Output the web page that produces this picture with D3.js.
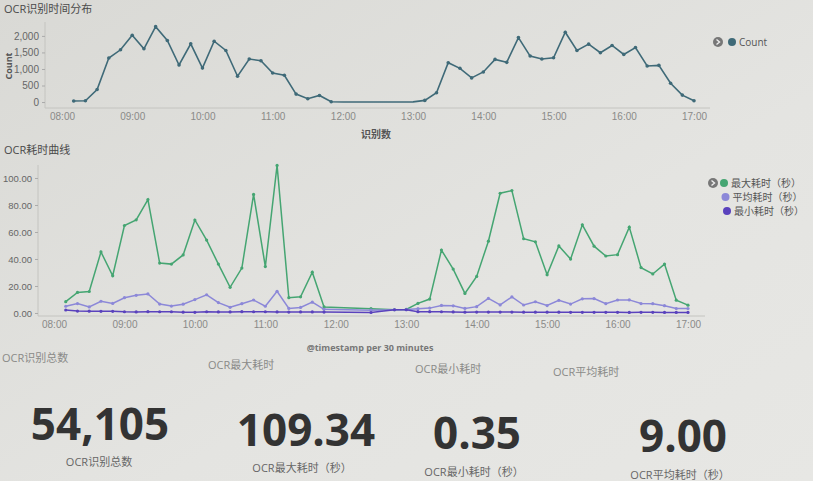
<!DOCTYPE html>
<html>
<head>
<meta charset="utf-8">
<script src="https://cdn.jsdelivr.net/npm/d3@7/dist/d3.min.js"></script>
<style>
  body { margin: 0; background: #e2e2df; }
  svg { display: block; font-family: "Open Sans", "Noto Sans CJK SC", sans-serif; }
</style>
</head>
<body>
<script>
// 10 minute buckets, 08:10 .. 17:00
var times = ["08:10","08:20","08:30","08:40","08:50","09:00","09:10","09:20","09:30","09:40","09:50",
  "10:00","10:10","10:20","10:30","10:40","10:50","11:00","11:10","11:20","11:30","11:40","11:50",
  "12:00","12:10","12:20","12:30","12:40","12:50","13:00","13:10","13:20","13:30","13:40","13:50",
  "14:00","14:10","14:20","14:30","14:40","14:50","15:00","15:10","15:20","15:30","15:40","15:50",
  "16:00","16:10","16:20","16:30","16:40","16:50","17:00"]

var counts = [30,40,380,1330,1580,2020,1610,2280,1860,1120,1760,1030,1840,1560,780,1300,1250,880,810,240,100,200,10,
  0,0,0,3,0,2,5,
  50,280,1190,1020,730,910,1290,1200,1950,1390,1300,1340,2110,1560,1750,1490,1710,1440,1650,1090,1110,570,210,40]

// 耗时（秒），null = 没有数据
var maxT = [8.4,15.2,15.9,45.2,27.6,64.8,69,84,37,36.2,43,68.9,54,36.2,19,33.3,87.8,34.4,109.34,11.3,12,30.2,4.5,
  null,null,null,3.2,null,2.4,2.6,
  7.1,10.3,46.6,32.5,14.5,27.1,53.2,88.7,90.7,55,52.7,28.4,49.7,39.9,65.3,49.5,42.2,43.2,63.6,33.6,28.9,36.2,9.5,5.8]
var avgT = [5.0,7.0,4.5,8.7,7.1,11.3,13.1,14.1,6.6,5.1,6.5,9.9,13.5,7.7,4.2,6.9,9.6,5.0,16.1,3.4,4.1,8.0,2.7,
  null,null,null,2.1,null,2.4,2.5,
  3.2,3.6,5.6,5.3,3.4,4.7,10.8,6.0,11.9,5.9,8.3,5.5,9.4,6.6,10.5,10.7,6.9,9.6,9.7,7.0,6.9,5.4,3.3,3.3]
var minT = [2.2,1.4,1.3,1.2,1.2,0.9,0.8,1.0,0.9,0.9,0.6,0.5,0.9,0.8,0.8,1.0,0.9,0.9,0.8,0.7,0.8,0.8,0.7,
  null,null,null,0.35,null,2.4,2.4,
  1.0,1.0,0.9,0.8,0.6,0.7,0.7,0.7,0.7,0.6,0.6,0.6,0.6,0.5,0.5,0.5,0.5,0.5,0.4,0.5,0.5,0.4,0.4,0.4]

var hourTicks = ["08:00","09:00","10:00","11:00","12:00","13:00","14:00","15:00","16:00","17:00"]
var countTicks = [0,500,1000,1500,2000]
var timeTicks = [0,20,40,60,80,100]

var seriesNames = ["最大耗时（秒）","平均耗时（秒）","最小耗时（秒）"]
var seriesColors = ["#45a572","#8c88d8","#5a42bd"]

var metricTitles = ["OCR识别总数","OCR最大耗时","OCR最小耗时","OCR平均耗时"]
var metricValues = ["54,105","109.34","0.35","9.00"]
var metricLabels = ["OCR识别总数","OCR最大耗时（秒）","OCR最小耗时（秒）","OCR平均耗时（秒）"]

var parse = d3.timeParse("%H:%M")

var W = 813, H = 481
var svg = d3.select("body").append("svg").attr("width", W).attr("height", H)

var grad = svg.append("defs").append("linearGradient").attr("id", "bg")
  .attr("x1", "0").attr("y1", "0").attr("x2", "1").attr("y2", "1")
grad.append("stop").attr("offset", "0").attr("stop-color", "#d9d9d5")
grad.append("stop").attr("offset", "0.6").attr("stop-color", "#e4e4e1")
grad.append("stop").attr("offset", "1").attr("stop-color", "#e7e7e4")
svg.append("rect").attr("width", W).attr("height", H).attr("fill", "url(#bg)")

function xAxisLabels(g, x) {
  g.call(d3.axisBottom(x).tickValues(hourTicks.map(parse)).tickFormat(d3.timeFormat("%H:%M")).tickSize(0).tickPadding(5))
  g.select(".domain").attr("stroke", "#c4c4c0")
  g.selectAll("text").attr("fill", "#8a8a88").attr("font-size", 10)
}

function legendButton(x, y) {
  svg.append("circle").attr("cx", x).attr("cy", y).attr("r", 5).attr("fill", "#777")
  svg.append("path").attr("d", "M" + (x - 1.5) + "," + (y - 2.5) + "L" + (x + 1.5) + "," + y + "L" + (x - 1.5) + "," + (y + 2.5))
    .attr("fill", "none").attr("stroke", "#eee").attr("stroke-width", 1.4)
}

//---------- OCR识别时间分布 ----------
svg.append("text").attr("x", 4).attr("y", 13).attr("font-size", 11).attr("fill", "#4a4a4a").text("OCR识别时间分布")

var x1 = d3.scaleTime().domain([parse("08:00"), parse("17:00")]).range([62, 694])
var y1 = d3.scaleLinear().domain([-180, 2420]).range([108, 22])

var gx1 = svg.append("g").attr("transform", "translate(0,108)")
xAxisLabels(gx1, x1)
gx1.select(".domain").attr("d", "M45,0H710")

var gy1 = svg.append("g").attr("transform", "translate(45,0)")
  .call(d3.axisLeft(y1).tickValues(countTicks).tickFormat(d3.format(",")).tickSize(3).tickPadding(3))
gy1.select(".domain").attr("stroke", "#c4c4c0").attr("d", "M0,22V108")
gy1.selectAll("line").attr("stroke", "#aaa")
gy1.selectAll("text").attr("fill", "#666").attr("font-size", 10)

svg.append("text").attr("transform", "translate(12,66) rotate(-90)").attr("text-anchor", "middle")
  .attr("font-size", 9).attr("font-weight", "bold").attr("fill", "#555").text("Count")
svg.append("text").attr("x", 376).attr("y", 138).attr("text-anchor", "middle")
  .attr("font-size", 10).attr("font-weight", "bold").attr("fill", "#555").text("识别数")

var countData = times.map(function (t, i) { return { t: parse(t), v: counts[i] } })
var line1 = d3.line().x(function (d) { return x1(d.t) }).y(function (d) { return y1(d.v) })
svg.append("path").datum(countData).attr("fill", "none").attr("stroke", "#3f6a78").attr("stroke-width", 1.6).attr("d", line1)
svg.append("g").selectAll("circle").data(countData.filter(function (d) { return d.v > 5 })).join("circle")
  .attr("cx", function (d) { return x1(d.t) }).attr("cy", function (d) { return y1(d.v) }).attr("r", 1.8).attr("fill", "#3f6a78")

legendButton(718, 42)
svg.append("circle").attr("cx", 732).attr("cy", 42).attr("r", 4).attr("fill", "#3f6a78")
svg.append("text").attr("x", 739).attr("y", 45.5).attr("font-size", 10).attr("fill", "#555").text("Count")

//---------- OCR耗时曲线 ----------
svg.append("text").attr("x", 4).attr("y", 154).attr("font-size", 11).attr("fill", "#4a4a4a").text("OCR耗时曲线")

var x2 = d3.scaleTime().domain([parse("08:00"), parse("17:00")]).range([54, 688])
var y2 = d3.scaleLinear().domain([-1.5, 110]).range([315, 164.5])

var gx2 = svg.append("g").attr("transform", "translate(0,316)")
xAxisLabels(gx2, x2)
gx2.select(".domain").attr("d", "M38,0H705")

var gy2 = svg.append("g").attr("transform", "translate(38,0)")
  .call(d3.axisLeft(y2).tickValues(timeTicks).tickFormat(d3.format(".2f")).tickSize(3).tickPadding(3))
gy2.select(".domain").attr("stroke", "#c4c4c0").attr("d", "M0,165V316")
gy2.selectAll("line").attr("stroke", "#aaa")
gy2.selectAll("text").attr("fill", "#666").attr("font-size", 9.5)

svg.append("text").attr("x", 370).attr("y", 351).attr("text-anchor", "middle")
  .attr("font-size", 9).attr("font-weight", "bold").attr("fill", "#777").text("@timestamp per 30 minutes")

var line2 = d3.line().x(function (d) { return x2(d.t) }).y(function (d) { return y2(d.v) })
;[maxT, avgT, minT].forEach(function (arr, k) {
  var pts = times.map(function (t, i) { return { t: parse(t), v: arr[i] } })
    .filter(function (d) { return d.v != null })
  svg.append("path").datum(pts).attr("fill", "none").attr("stroke", seriesColors[k]).attr("stroke-width", 1.5).attr("d", line2)
  svg.append("g").selectAll("circle").data(pts).join("circle")
    .attr("cx", function (d) { return x2(d.t) }).attr("cy", function (d) { return y2(d.v) }).attr("r", 1.6).attr("fill", seriesColors[k])
})

legendButton(713, 183)
seriesNames.forEach(function (name, k) {
  svg.append("circle").attr("cx", 724 + k * 1.5).attr("cy", 183 + k * 14).attr("r", 4).attr("fill", seriesColors[k])
  svg.append("text").attr("x", 731 + k * 1.5).attr("y", 186.5 + k * 14).attr("font-size", 10).attr("fill", "#555").text(name)
})

//---------- metrics ----------
var titlePos = [[2, 362], [208, 369], [415, 373], [553, 376]]
var valuePos = [[100, 440], [306, 446], [477, 449], [683, 452]]
var labelPos = [[99, 466], [302, 472], [474, 476], [680, 479]]

metricTitles.forEach(function (t, i) {
  svg.append("text").attr("x", titlePos[i][0]).attr("y", titlePos[i][1]).attr("font-size", 11).attr("fill", "#8a8a88").text(t)
  svg.append("text").attr("x", valuePos[i][0]).attr("y", valuePos[i][1]).attr("text-anchor", "middle")
    .attr("font-size", 44).attr("font-weight", "bold").attr("fill", "#333").text(metricValues[i])
  svg.append("text").attr("x", labelPos[i][0]).attr("y", labelPos[i][1]).attr("text-anchor", "middle")
    .attr("font-size", 11).attr("fill", "#666").text(metricLabels[i])
})
</script>
</body>
</html>
